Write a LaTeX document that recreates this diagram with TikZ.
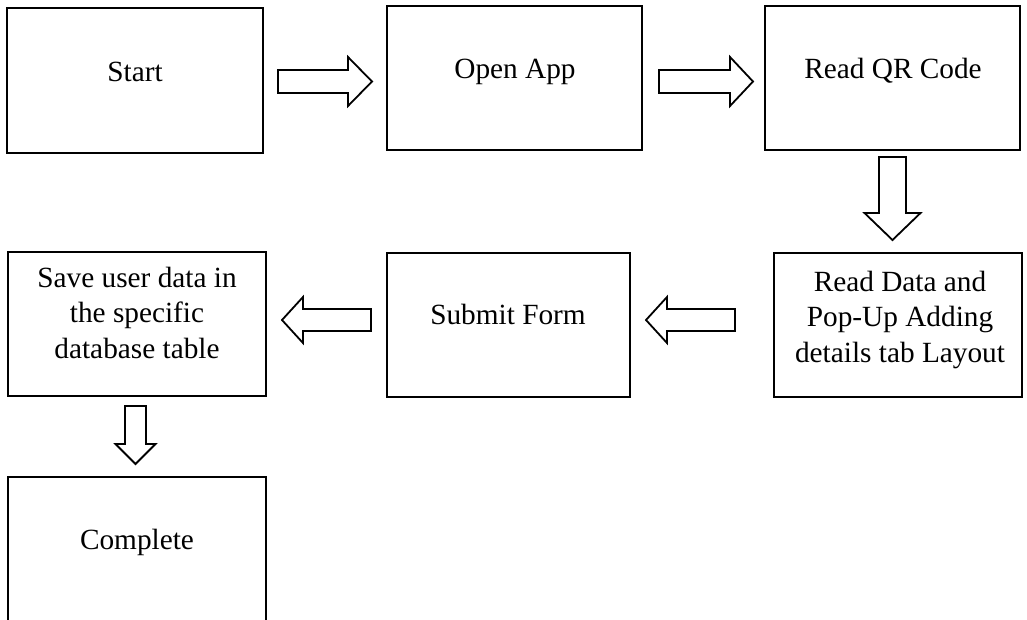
\documentclass[tikz,border=0pt]{standalone}
\usepackage{fontspec}
\setmainfont{Liberation Serif}
\tikzset{
  box/.style={draw=black, line width=2pt, fill=white},
  txt/.style={anchor=base, inner sep=0pt, font=\fontsize{29.3}{35.5}\selectfont, align=center},
  blk/.style={draw=black, line width=1.8pt, fill=white, line join=miter}
}
% horizontal block arrow: tail x, head-base x, tip x, centre y, half shaft, half head
\newcommand\hblk[6]{\draw[blk] (#1,#4-#5) -- (#2,#4-#5) -- (#2,#4-#6) -- (#3,#4) -- (#2,#4+#6) -- (#2,#4+#5) -- (#1,#4+#5) -- cycle;}
% vertical block arrow: tail y, head-base y, tip y, centre x, half shaft, half head
\newcommand\vblk[6]{\draw[blk] (#4-#5,#1) -- (#4-#5,#2) -- (#4-#6,#2) -- (#4,#3) -- (#4+#6,#2) -- (#4+#5,#2) -- (#4+#5,#1) -- cycle;}
\begin{document}
\begin{tikzpicture}[x=1pt,y=-1pt]
\useasboundingbox (0,0) rectangle (1027,619);
\clip (0,0) rectangle (1027,619);
% boxes
\draw[box] (7,8) rectangle (263,153);
\draw[box] (387,6) rectangle (642,150);
\draw[box] (765,6) rectangle (1020,150);
\draw[box] (774,253) rectangle (1022,397);
\draw[box] (387,253) rectangle (630,397);
\draw[box] (8,252) rectangle (266,396);
\draw[box] (8,640) -- (8,477) -- (266,477) -- (266,640);
% texts
\node[txt] (tStart) at (135,81) {Start};
\node[txt] (tOpen) at (515,78) {Open App};
\node[txt] (tQR) at (893,78) {Read QR Code};
\node[txt] (tRead) at (900,362) {Read Data and\\Pop-Up Adding\\details tab Layout};
\node[txt] (tSubmit) at (508,324) {Submit Form};
\node[txt] (tSave) at (137,358) {Save user data in\\the specific\\database table};
\node[txt] (tComplete) at (137,549) {Complete};
% block arrows
\hblk{278}{348}{372}{81.5}{11.5}{24.5}
\hblk{659}{730}{753}{81.5}{11.5}{24.5}
\vblk{157}{213}{240}{892.5}{13.5}{28}
\hblk{735}{667}{646}{320}{11}{23}
\hblk{371}{303}{282}{320}{11}{23}
\vblk{406}{444}{464}{135.5}{10.5}{20}
\end{tikzpicture}
\end{document}
